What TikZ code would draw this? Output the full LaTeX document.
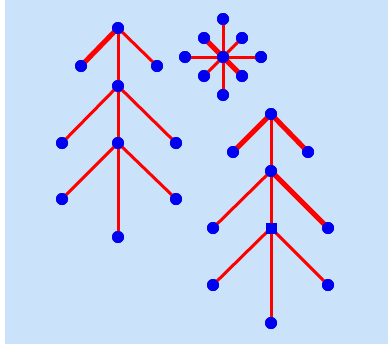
\documentclass[tikz,border=0pt]{standalone}
\definecolor{bgblue}{RGB}{202,226,250}
\definecolor{dotblue}{RGB}{0,0,240}
\definecolor{linered}{RGB}{255,0,0}
\tikzset{
  dot/.style={circle,fill=dotblue,inner sep=0pt,minimum size=12pt},
  sqdot/.style={rectangle,fill=dotblue,inner sep=0pt,minimum size=11pt},
  br/.style={draw=linered,line width=3pt},
  thick br/.style={draw=linered,line width=5pt}
}
\begin{document}
\begin{tikzpicture}[x=1pt,y=-1pt]
\useasboundingbox (0,0) rectangle (388,348);
\fill[white] (0,0) rectangle (388,348);
\fill[bgblue] (5,0) rectangle (388,344);
% tree 1
\node[dot] (a0) at (118,28) {};
\node[dot] (a1) at (81,66) {};
\node[dot] (a2) at (157,66) {};
\node[dot] (a3) at (118,86) {};
\node[dot] (a4) at (62,143) {};
\node[dot] (a5) at (176,143) {};
\node[dot] (a6) at (118,143) {};
\node[dot] (a7) at (62,199) {};
\node[dot] (a8) at (176,199) {};
\node[dot] (a9) at (118,237) {};
% tree 2
\node[dot] (b0) at (271,114) {};
\node[dot] (b1) at (233,152) {};
\node[dot] (b2) at (308,152) {};
\node[dot] (b3) at (271,171) {};
\node[dot] (b4) at (213,228) {};
\node[dot] (b5) at (328,228) {};
\node[sqdot] (b6) at (271,228) {};
\node[dot] (b7) at (213,285) {};
\node[dot] (b8) at (328,285) {};
\node[dot] (b9) at (271,323) {};
% snowflake
\node[dot] (s0) at (223,57) {};
\node[dot] (s1) at (223,19) {};
\node[dot] (s2) at (223,95) {};
\node[dot] (s3) at (185,57) {};
\node[dot] (s4) at (261,57) {};
\node[dot] (s5) at (204,38) {};
\node[dot] (s6) at (242,38) {};
\node[dot] (s7) at (204,76) {};
\node[dot] (s8) at (242,76) {};
% connectors
\path[thick br] (a0.center) -- (a1.center);
\path[br] (a0.center) -- (a2.center);
\path[br] (a0.center) -- (a3.center);
\path[br] (a3.center) -- (a4.center);
\path[br] (a3.center) -- (a5.center);
\path[br] (a3.center) -- (a6.center);
\path[br] (a6.center) -- (a7.center);
\path[br] (a6.center) -- (a8.center);
\path[br] (a6.center) -- (a9.center);
\path[thick br] (b0.center) -- (b1.center);
\path[thick br] (b0.center) -- (b2.center);
\path[br] (b0.center) -- (b3.center);
\path[br] (b3.center) -- (b4.center);
\path[thick br] (b3.center) -- (b5.center);
\path[br] (b3.center) -- (b6.center);
\path[br] (b6.center) -- (b7.center);
\path[br] (b6.center) -- (b8.center);
\path[br] (b6.center) -- (b9.center);
\path[br] (s0.center) -- (s1.center);
\path[br] (s0.center) -- (s2.center);
\path[br] (s0.center) -- (s3.center);
\path[br] (s0.center) -- (s4.center);
\path[thick br] (s0.center) -- (s5.center);
\path[br] (s0.center) -- (s6.center);
\path[br] (s0.center) -- (s7.center);
\path[thick br] (s0.center) -- (s8.center);
% redraw dots on top of the connectors
\foreach \n in {a0,a1,a2,a3,a4,a5,a6,a7,a8,a9,b0,b1,b2,b3,b4,b5,b7,b8,b9,s0,s1,s2,s3,s4,s5,s6,s7,s8}
  \fill[dotblue] (\n.center) circle (6pt);
\fill[dotblue] ([shift={(-5.5pt,-5.5pt)}]b6.center) rectangle ([shift={(5.5pt,5.5pt)}]b6.center);
\end{tikzpicture}
\end{document}
